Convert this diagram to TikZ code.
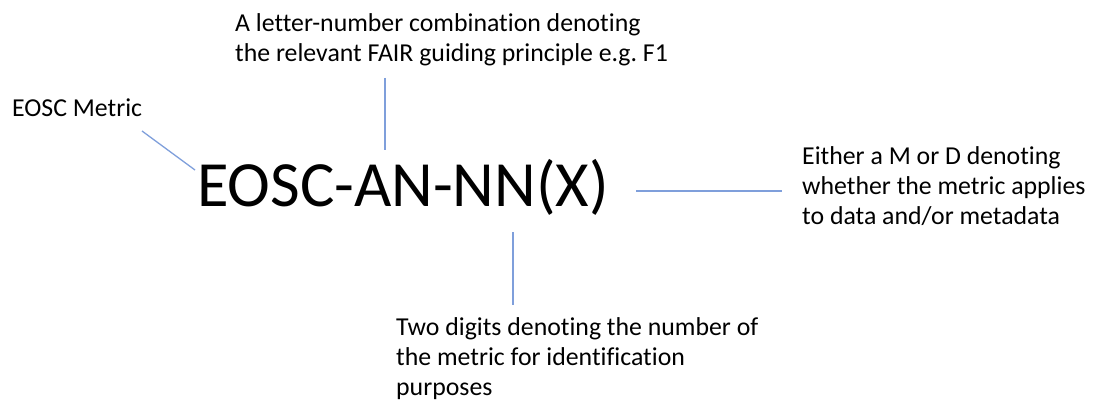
\documentclass[tikz,border=0pt]{standalone}
\usepackage{fontspec}
\setmainfont{Carlito}[Ligatures=NoCommon]
\usetikzlibrary{positioning}
\definecolor{leader}{HTML}{7F9FDB}
\definecolor{ink}{HTML}{000000}
\tikzset{
  note/.style={
    anchor=base west, inner sep=0pt, align=left,
    text=ink, font=\fontsize{25.8}{30}\selectfont,
  },
  code/.style={
    anchor=base west, inner sep=0pt,
    text=ink, font=\fontsize{64.5}{70}\selectfont,
  },
  leaderline/.style={draw=leader, line width=1.3pt},
}
\frenchspacing

\begin{document}
\begin{tikzpicture}[x=1pt, y=-1pt]
  \useasboundingbox (0,0) rectangle (1093,401);

  % identifier
  \node[code] (id) at (197,207) {EOSC-AN-NN(X)};

  % explanations (anchored on the last line)
  \node[note] (eosc) at (12,117) {EOSC Metric};
  \node[note] (principle) at (235,62) {A letter-number combination denoting\\the relevant FAIR guiding principle e.g. F1};
  \node[note] (scope) at (802,225) {Either a M or D denoting\\whether the metric applies\\to data and/or metadata};
  \node[note] (number) at (396,395) {Two digits denoting the number of\\the metric for identification\\purposes};

  % leader ends
  \coordinate (eosc-a) at (142,131);
  \coordinate (eosc-b) at (195,170);
  \coordinate (principle-a) at (385,78);
  \coordinate (principle-b) at (385,150);
  \coordinate (scope-a) at (636,191);
  \coordinate (scope-b) at (782,191);
  \coordinate (number-a) at (513,232);
  \coordinate (number-b) at (513,305);

  \draw[leaderline] (eosc-a) -- (eosc-b);
  \draw[leaderline] (principle-a) -- (principle-b);
  \draw[leaderline] (scope-a) -- (scope-b);
  \draw[leaderline] (number-a) -- (number-b);

\end{tikzpicture}
\end{document}
